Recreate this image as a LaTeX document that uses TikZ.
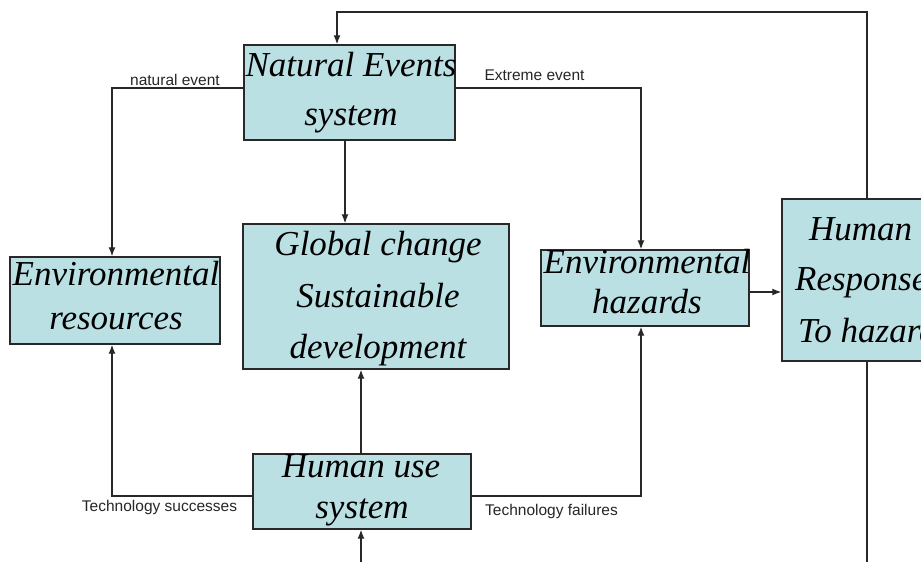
\documentclass[tikz,border=0pt]{standalone}
\usepackage{fontspec}
\setmainfont{Liberation Serif}
\newfontfamily\labfont{Liberation Sans}
\usetikzlibrary{arrows.meta}
\definecolor{boxfill}{RGB}{187,224,227}
\definecolor{edge}{RGB}{40,40,40}
\tikzset{
  sysbox/.style={draw=edge, fill=boxfill, line width=1.4pt, rectangle, inner sep=0pt},
  tl/.style={anchor=base, inner sep=0pt, font=\itshape\fontsize{35}{40}\selectfont},
  lb/.style={anchor=base, inner sep=0pt, text=black!85, font=\labfont\fontsize{15.5}{18}\selectfont},
  conn/.style={draw=edge, line width=1.3pt},
  arr/.style={conn, -{Latex[length=9pt,width=7pt]}}
}
\begin{document}
\begin{tikzpicture}[x=1pt,y=1pt]
\useasboundingbox (0,0) rectangle (921,-562);
\fill[white] (0,0) rectangle (921,-562);
\clip (0,0) rectangle (921,-562);

% boxes
\node[sysbox, minimum width=211pt, minimum height=95pt] (ne) at (349.5,-92.5) {};
\node[sysbox, minimum width=210pt, minimum height=87pt] (er) at (115,-300.5) {};
\node[sysbox, minimum width=266pt, minimum height=145pt] (gc) at (376,-296.5) {};
\node[sysbox, minimum width=208pt, minimum height=76pt] (eh) at (645,-288) {};
\node[sysbox, minimum width=170pt, minimum height=162pt] (hr) at (867,-280) {};
\node[sysbox, minimum width=218pt, minimum height=75pt] (hu) at (362,-491.5) {};

% box texts
\node[tl] (ne1) at (351,-76) {Natural Events};
\node[tl] (ne2) at (351,-125) {system};
\node[tl] (er1) at (116,-285) {Environmental};
\node[tl] (er2) at (116,-329) {resources};
\node[tl] (gc1) at (378,-255) {Global change};
\node[tl] (gc2) at (378,-307) {Sustainable};
\node[tl] (gc3) at (378,-358) {development};
\node[tl] (eh1) at (647,-273) {Environmental};
\node[tl] (eh2) at (647,-313) {hazards};
\node[tl, anchor=base west] (hr1) at (809,-240) {Human};
\node[tl, anchor=base west] (hr2) at (795,-290) {Response};
\node[tl, anchor=base west] (hr3) at (798,-342) {To hazards};
\node[tl] (hu1) at (361,-477) {Human use};
\node[tl] (hu2) at (362,-518) {system};

% labels
\node[lb] (lne) at (175,-85) {natural event};
\node[lb] (lee) at (534.5,-80) {Extreme event};
\node[lb] (lts) at (159.5,-511) {Technology successes};
\node[lb] (ltf) at (551.5,-515) {Technology failures};

% routing coordinates
\coordinate (topc) at (337,-12);
\coordinate (xl) at (112,-88);
\coordinate (xr) at (641,-88);
\coordinate (xm) at (345,0);
\coordinate (bl) at (112,-496);
\coordinate (br) at (641,-496);
\coordinate (hrb) at (867,-562);
\coordinate (hub) at (361,-562);
\coordinate (ehy) at (0,-292);

% connectors
\draw[arr] (hr.north) |- (topc) -- (ne.north -| topc);
\draw[conn] (hr.south) -- (hrb);
\draw[arr] (hub) -- (hu.south -| hub);
\draw[arr] (ne.south -| xm) -- (gc.north -| xm);
\draw[arr] (ne.west |- xl) -- (xl) -- (er.north -| xl);
\draw[arr] (ne.east |- xr) -- (xr) -- (eh.north -| xr);
\draw[arr] (hu.west |- bl) -- (bl) -- (er.south -| bl);
\draw[arr] (hu.east |- br) -- (br) -- (eh.south -| br);
\draw[arr] (hu.north -| hub) -- (gc.south -| hub);
\draw[arr] (eh.east |- ehy) -- (hr.west |- ehy);
\end{tikzpicture}
\end{document}
